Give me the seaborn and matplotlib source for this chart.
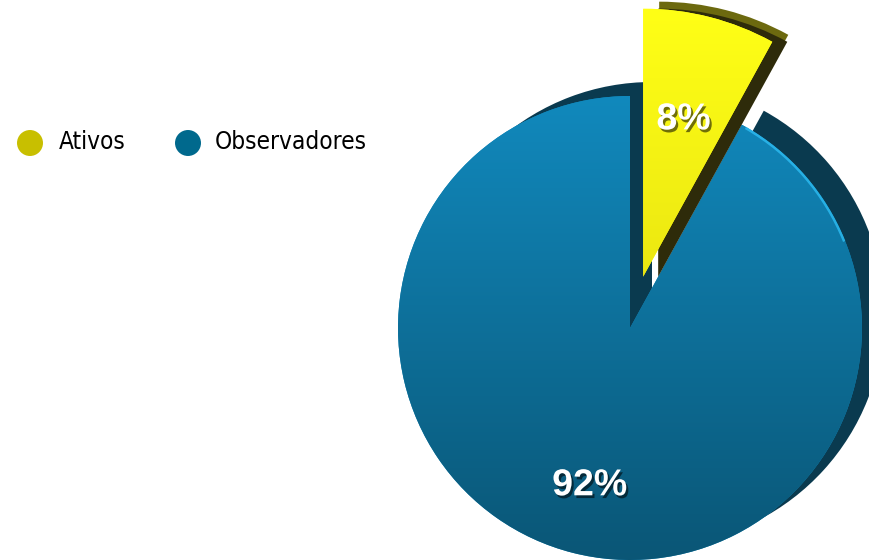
import numpy as np
import seaborn as sns
import matplotlib.pyplot as plt
import matplotlib.colors as mcolors
import matplotlib.patheffects as pe
from matplotlib.patches import Arc

# data
labels = ["Ativos", "Observadores"]
shares = [8, 92]

# colours: top / bottom of the gradient on each slice face
face_top = ["#ffff16", "#1189bd"]
face_bottom = ["#d8d00c", "#0a5676"]
side_colors = ["#2e2b0a", "#0a3a4f"]
rim_color = "#6c690f"
legend_colors = ["#c8bf00", "#00698d"]

sns.set_theme(style="white")
plt.rcParams["font.family"] = ["Liberation Sans", "DejaVu Sans"]

W, H = 869, 560
fig = plt.figure(figsize=(W / 100, H / 100), dpi=100)
ax = fig.add_axes([0, 0, 1, 1])

CX, CY, R = 630, H - 328, 232
R_Y = 268
EXPLODE = 53


def pie_layer(dx, dy, cols, z, **kw):
    out = ax.pie(
        shares,
        colors=cols,
        startangle=90,
        counterclock=False,
        radius=R,
        center=(CX + dx, CY + dy),
        explode=[EXPLODE, 0],
        wedgeprops=dict(linewidth=0),
        **kw,
    )
    wedges = out[0]
    wedges[0].set_radius(R_Y)
    for w in wedges:
        w.set_zorder(z)
    return out


# extruded sides behind the faces
back = pie_layer(22, 14, ["none", side_colors[1]], 1)
rim = pie_layer(16, 7, [rim_color, "none"], 3)
side = pie_layer(15, 0, [side_colors[0], "none"], 3.5)

# faces with percentage labels
wedges, _, autotexts = pie_layer(
    0, 0, face_top, 2,
    autopct="%.0f%%",
    pctdistance=0.70,
    textprops=dict(color="white", fontsize=27, fontweight="bold",
                   family=["Liberation Sans", "DejaVu Sans"]),
)
wedges[0].set_zorder(4)
for t in autotexts:
    t.set_zorder(10)
    t.set_path_effects([
        pe.withSimplePatchShadow(offset=(1.5, -2), shadow_rgbFace="black", alpha=0.55),
    ])

# vertical gradient on each face, clipped to its wedge
for w, top, bot in zip(wedges, face_top, face_bottom):
    cx, cy = w.center
    r = w.r
    t = np.linspace(0, 1, 256)[:, None, None]
    grad = (1 - t) * np.array(mcolors.to_rgb(top)) + t * np.array(mcolors.to_rgb(bot))
    grad = np.repeat(grad, 4, axis=1)
    im = ax.imshow(grad, extent=(cx - r, cx + r, cy - r, cy + r), origin="upper",
                   aspect="auto", zorder=w.get_zorder() + 0.1, interpolation="bilinear")
    im.set_clip_path(w)

# light edge on the upper right of the big slice
blue = wedges[1]
ax.add_patch(Arc(blue.center, 2 * blue.r - 2, 2 * blue.r - 2, theta1=22, theta2=60,
                 color="#2dbcf2", lw=1.8, alpha=0.8, zorder=2.5))

# legend row
ax.scatter([30, 188], [H - 143, H - 143], s=350, c=legend_colors, linewidths=0, zorder=5)
for x, lab in zip([59, 215], labels):
    ax.text(x, H - 142, lab, va="center", ha="left", fontsize=17.5, color="black",
            family="DejaVu Sans", fontstretch="condensed")

ax.set_xlim(0, W)
ax.set_ylim(0, H)
ax.set_aspect("auto")
ax.axis("off")

fig.savefig("out.png", dpi=100)
